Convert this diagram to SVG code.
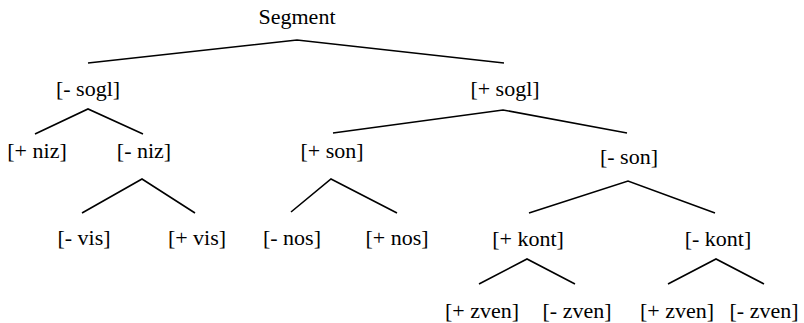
<svg xmlns="http://www.w3.org/2000/svg" width="804" height="323" viewBox="0 0 804 323">
<style>
text{font-family:"Liberation Serif","Times New Roman",serif;font-size:22px;fill:#000;text-anchor:middle}
.e{fill:none;stroke:#000;stroke-width:1.6}
</style>
<rect width="804" height="323" fill="#fff"/>
<g id="connectors">
<polyline class="e" points="88,63 297,40 504,63"/>
<polyline class="e" points="35,134 88,109 143,134"/>
<polyline class="e" points="333,133 503,110 627,133"/>
<polyline class="e" points="82,213 142,179 195,213"/>
<polyline class="e" points="291,212 331,179 397,213"/>
<polyline class="e" points="529,213 628,181 715,213"/>
<polyline class="e" points="479,284 527,259 575,284"/>
<polyline class="e" points="668,284 716,259 764,284"/>
</g>
<g id="n-segment"><text x="297" y="24">Segment</text></g>
<g id="n-minus-sogl"><text x="88" y="96">[- sogl]</text></g>
<g id="n-plus-sogl"><text x="505" y="96">[+ sogl]</text></g>
<g id="n-plus-niz"><text x="37" y="158">[+ niz]</text></g>
<g id="n-minus-niz"><text x="144" y="158">[- niz]</text></g>
<g id="n-plus-son"><text x="332" y="158">[+ son]</text></g>
<g id="n-minus-son"><text x="629" y="164">[- son]</text></g>
<g id="n-minus-vis"><text x="84" y="245">[- vis]</text></g>
<g id="n-plus-vis"><text x="197" y="245">[+ vis]</text></g>
<g id="n-minus-nos"><text x="292" y="245">[- nos]</text></g>
<g id="n-plus-nos"><text x="397" y="245">[+ nos]</text></g>
<g id="n-plus-kont"><text x="528" y="246">[+ kont]</text></g>
<g id="n-minus-kont"><text x="718" y="246">[- kont]</text></g>
<g id="n-plus-zven-1"><text x="482" y="318">[+ zven]</text></g>
<g id="n-minus-zven-1"><text x="577" y="318">[- zven]</text></g>
<g id="n-plus-zven-2"><text x="677" y="318">[+ zven]</text></g>
<g id="n-minus-zven-2"><text x="764" y="318">[- zven]</text></g>
</svg>
